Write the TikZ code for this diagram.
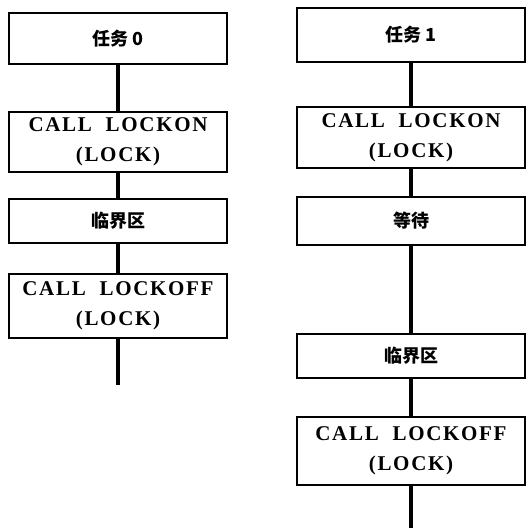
\documentclass[tikz,border=0pt]{standalone}
\usepackage{fontspec}
\setmainfont{Liberation Serif}
\newfontfamily\cjk{Noto Sans CJK SC}
\newfontfamily\callfont{Liberation Serif}[LetterSpace=8]
\begin{document}
\begin{tikzpicture}[x=1pt,y=-1pt,
  box/.style={draw=black, line width=2.4pt, rectangle, inner sep=0pt, align=center},
  lbox/.style={box, minimum width=218pt},
  rbox/.style={box, minimum width=228pt},
  cjklabel/.style={font=\cjk\bfseries\fontsize{18pt}{20pt}\selectfont},
  calllabel/.style={font=\callfont\bfseries\fontsize{21pt}{30pt}\selectfont},
  conn/.style={draw=black, line width=3.2pt}]
\useasboundingbox (0,0) rectangle (530,531);
% left column
\node[lbox, cjklabel, minimum height=51pt] (l1) at (118,38.5) {任务 0};
\node[lbox, calllabel, minimum height=60pt] (l2) at (118,142) {CALL\ \ LOCKON\\(LOCK)};
\node[lbox, cjklabel, minimum height=44pt] (l3) at (118,221) {临界区};
\node[lbox, calllabel, minimum height=64pt] (l4) at (118,306) {CALL\ \ LOCKOFF\\(LOCK)};
\coordinate (lend) at (118,385);
\draw[conn] (l1) -- (l2);
\draw[conn] (l2) -- (l3);
\draw[conn] (l3) -- (l4);
\draw[conn] (l4) -- (lend);
% right column
\node[rbox, cjklabel, minimum height=54pt] (r1) at (411,35) {任务 1};
\node[rbox, calllabel, minimum height=61pt] (r2) at (411,137.5) {CALL\ \ LOCKON\\(LOCK)};
\node[rbox, cjklabel, minimum height=48pt] (r3) at (411,221) {等待};
\node[rbox, cjklabel, minimum height=44pt] (r4) at (411,356) {临界区};
\node[rbox, calllabel, minimum height=68pt] (r5) at (411,451) {CALL\ \ LOCKOFF\\(LOCK)};
\coordinate (rend) at (411,528);
\draw[conn] (r1) -- (r2);
\draw[conn] (r2) -- (r3);
\draw[conn] (r3) -- (r4);
\draw[conn] (r4) -- (r5);
\draw[conn] (r5) -- (rend);
\end{tikzpicture}
\end{document}
